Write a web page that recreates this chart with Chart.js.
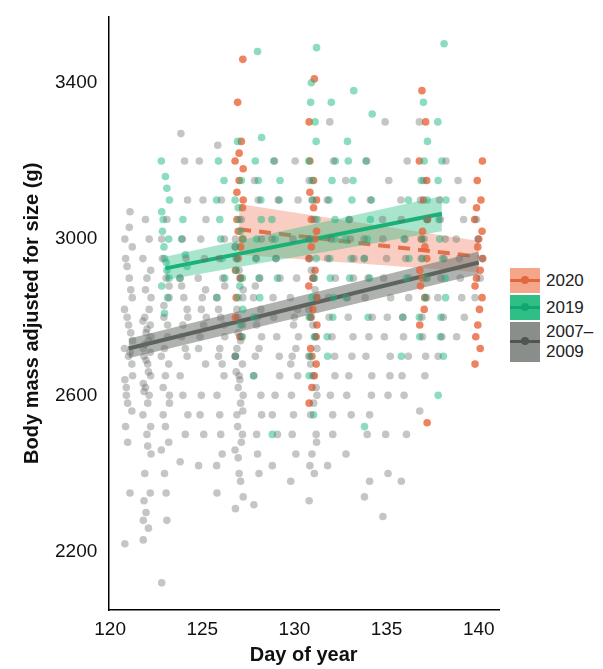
<!DOCTYPE html>
<html>
<head>
<meta charset="utf-8">
<script src="https://cdn.jsdelivr.net/npm/chart.js@4"></script>
<style>
  body { margin: 0; background: #fff; font-family: Arial, "Liberation Sans", sans-serif; }
  #wrap { position: relative; width: 603px; height: 669px; }
  #chart { position: absolute; left: 0; top: 0; width: 505px; height: 669px; }
  .legend { position: absolute; left: 510px; top: 268px; font-size: 17px; color: #222; }
  .item { display: flex; align-items: flex-start; height: 27px; }
  .key { width: 30px; height: 25px; position: relative; margin-right: 6px; }
  .key .ln { position: absolute; left: 0; right: 0; top: 11px; height: 3px; }
  .key .dt { position: absolute; left: 11px; top: 8px; width: 8px; height: 8px; border-radius: 50%; }
</style>
</head>
<body>
<div id="wrap">
  <canvas id="chart" width="505" height="669"></canvas>
  <div class="legend">
    <div class="item"><div class="key" style="background:#f4a58a"><div class="ln" style="background:#e0673e"></div><div class="dt" style="background:#e0673e"></div></div><span style="line-height:25px">2020</span></div>
    <div class="item"><div class="key" style="background:#2fbf86"><div class="ln" style="background:#10a870"></div><div class="dt" style="background:#10a870"></div></div><span style="line-height:25px">2019</span></div>
    <div class="item"><div class="key" style="background:#8a8e8a;height:40px"><div class="ln" style="background:#505550;top:18px"></div><div class="dt" style="background:#505550;top:15px"></div></div><span style="line-height:20px">2007–<br>2009</span></div>
  </div>
</div>
<script>
// observations per day of year: [day, [masses]]
const grayDays = [
  [121, [2220,2350,2480,2560,2600,2650,2700,2720,2760,2800,2850,2900,2950,3000,3070,2580,2680,2620,2740,2780,2820,2870,2930,2980,3030,2520,2640,2710]],
  [122, [2230,2260,2300,2350,2400,2450,2500,2550,2600,2620,2650,2680,2700,2720,2740,2760,2780,2800,2850,2900,2950,3000,3050,2520,2580,2610,2630,2660,2690,2710,2730,2750,2770,2790,2820,2870,2920,2470,2330,2280]],
  [123, [2120,2280,2400,2480,2550,2600,2650,2700,2750,2800,2850,2900,2950,3000,3050,2720,2680,2620,2580,2520,2460,2780,2830,2880,2350]],
  [124, [2430,2500,2600,2700,2750,2800,2850,2900,2950,3000,3100,3200,3270,2650,2720,2780,2820,2880,2550]],
  [125, [2420,2500,2600,2680,2750,2800,2850,2900,2950,3000,3050,3100,3200,2720,2780,2820,2870,2550]],
  [126, [2350,2450,2550,2650,2700,2750,2800,2850,2900,2950,3000,3100,3240,2600,2680,2720,2780,2820,2880,2500,2420]],
  [127, [2310,2380,2440,2500,2550,2600,2650,2700,2750,2800,2850,2900,2950,3000,2580,2620,2680,2720,2340,2400,2460,2480,2520,2560,2640,2660,2700,2740,2760,2780,2820,2870,2920,2980,3050]],
  [128, [2320,2400,2500,2600,2700,2750,2800,2850,2900,2950,3000,3100,3150,2650,2720,2780,2820,2880,2550,2450]],
  [129, [2420,2500,2600,2700,2800,2900,2950,3000,3100,3200,2650,2750,2850,2550]],
  [130, [2380,2450,2550,2650,2700,2750,2800,2850,2900,3000,3100,3200,2600,2680,2720,2780,2820,2500]],
  [131, [2330,2400,2450,2500,2550,2600,2650,2700,2750,2800,2850,2900,2950,3000,3050,3100,2620,2680,2720,2780,2820,2870,2920,2480,2580,2420,3150]],
  [132, [2420,2500,2600,2700,2800,2900,3000,3100,3200,3300,2650,2750,2850,2950,2550]],
  [133, [2450,2550,2650,2750,2850,2950,3050,3150,2700,2800,2900,3000,2600]],
  [134, [2340,2380,2500,2600,2700,2800,2900,3000,3100,3200,2650,2750,2850,2950,2550]],
  [135, [2290,2400,2500,2650,2750,2850,2950,3050,3150,3300,2700,2800,2900,3000,2600]],
  [136, [2380,2500,2600,2700,2800,2900,3000,3100,3200,2750,2850,2950,2650,3050]],
  [137, [2560,2650,2750,2850,2950,3050,3150,3300,2700,2800,2900,3000,3100]],
  [138, [2700,2800,2900,3000,3100,3200,2750,2850,2950,3050]],
  [139, [2750,2850,2950,3050,3150,2800,2900,3000,3100]],
  [140, [2850,2900,3000,2950,3050]]
];
const greenDays = [
  [123, [2880,2920,2950,3000,3050,3100,3160,3200,2850,2980,2900,2940,3020,3070,3130,2810]],
  [124, [2900,2960,3050,2930,3000]],
  [126, [2850,2950,3050,3150,3200,2900,3000,3100]],
  [127, [2700,2780,2850,2900,2950,3000,3050,3100,3150,3250,2820,2880,2920,2980,3020,3080,2750]],
  [128, [2800,2900,3000,3100,3200,3260,3480,2650,2850,2950,3050,3150]],
  [129, [2500,2900,3000,3100,3200,3150,2950,3050]],
  [131, [2650,2750,2850,2950,3000,3050,3100,3200,3300,3400,3490,2550,2700,2800,2900,3150,3250,3350]],
  [132, [2700,2800,2900,3000,3100,3200,3350,2750,2850,2950,3050,3150]],
  [133, [2850,2950,3050,3150,3250,3380,2900,3000,3100,3200]],
  [134, [2520,2900,3000,3100,3200,3320,2800,2950,3050]],
  [136, [2700,2900,3000,3100,2800,2950]],
  [137, [2750,2850,2950,3050,3150,3250,3350,2800,2900,3000,3100,3200]],
  [138, [2600,2700,2800,2900,3000,3100,3200,3300,3500,2750,2850,2950,3050,3150]]
];
const orangeDays = [
  [127, [2800,2900,2950,3000,3050,3100,3150,3200,3250,3350,3460,2750,2850,2920,2980,3020,3080,3120,3180,3220]],
  [131, [2580,2650,2700,2750,2800,2850,2900,2950,3000,3050,3100,3150,3200,3300,3410,2620,2680,2720,2780,2820,2880,2920,2980,3020,3080,3120]],
  [137, [2780,2850,2900,2950,3000,3050,3100,3200,3300,3380,2530,2820,2880,2920,2980,3020,3150]],
  [140, [2680,2720,2780,2850,2900,2950,3000,3050,3100,3150,3200,2820,2750,2880,2920,2980,3020,3080]]
];
// horizontal jitter offsets (days), cycled over points of a day
const jitter = [-0.2, 0.08, -0.05, 0.18, -0.12, 0.22, 0.0, -0.22, 0.12, -0.08, 0.2, 0.04, -0.16];

// fitted lines and 95% bands: [x, fit, lower, upper]
const grayFit = [[121, 2720, 2695, 2745], [140, 2940, 2910, 2968]];
const greenFit = [[123, 2925, 2895, 2955], [138, 3065, 3020, 3110]];
const orangeFit = [[127, 3025, 2960, 3090], [140, 2955, 2915, 2995]];

const xTicks = [120, 125, 130, 135, 140];
const yTicks = [2200, 2600, 3000, 3400];

function toPoints(days) {
  const pts = [];
  days.forEach(([d, ys]) => ys.forEach((y, i) => pts.push({ x: d + jitter[i % jitter.length], y })));
  return pts;
}
function col(fit, k) { return fit.map(r => ({ x: r[0], y: r[k] })); }

function bandSets(fit, fillColor, lineColor, dash) {
  return [
    { type: "line", data: col(fit, 2), borderWidth: 0, pointRadius: 0, fill: false },
    { type: "line", data: col(fit, 3), borderWidth: 0, pointRadius: 0, fill: "-1", backgroundColor: fillColor },
    { type: "line", data: col(fit, 1), borderColor: lineColor, borderWidth: 4, pointRadius: 0, fill: false, borderDash: dash || [] }
  ];
}

new Chart(document.getElementById("chart"), {
  type: "scatter",
  data: {
    datasets: [
      { data: toPoints(grayDays), backgroundColor: "rgba(100,105,100,0.38)", pointRadius: 3.8, borderWidth: 0 },
      { data: toPoints(greenDays), backgroundColor: "rgba(25,185,130,0.5)", pointRadius: 3.8, borderWidth: 0 },
      { data: toPoints(orangeDays), backgroundColor: "rgba(232,100,58,0.8)", pointRadius: 3.8, borderWidth: 0 },
      ...bandSets(grayFit, "rgba(110,115,110,0.55)", "#4b514b"),
      ...bandSets(greenFit, "rgba(40,190,130,0.4)", "#10a870"),
      ...bandSets(orangeFit, "rgba(240,130,100,0.4)", "#d9643c", [12, 8])
    ]
  },
  options: {
    responsive: false,
    animation: false,
    layout: { padding: { top: 12, right: 6, bottom: 2, left: 14 } },
    plugins: { legend: { display: false }, tooltip: { enabled: false } },
    scales: {
      x: {
        type: "linear", min: 119.9, max: 141.1,
        afterBuildTicks: a => { a.ticks = xTicks.map(v => ({ value: v })); },
        grid: { display: false, drawTicks: true, tickLength: 6, tickColor: "#000" },
        border: { color: "#000", width: 1.5 },
        ticks: { color: "#111", font: { size: 19 }, padding: 2, callback: v => String(v) },
        title: { display: true, text: "Day of year", color: "#111", font: { size: 20, weight: "bold" }, padding: 0 }
      },
      y: {
        min: 2050, max: 3570,
        afterBuildTicks: a => { a.ticks = yTicks.map(v => ({ value: v })); },
        grid: { display: false, drawTicks: true, tickLength: 6, tickColor: "#000" },
        border: { color: "#000", width: 1.5 },
        ticks: { color: "#111", font: { size: 19 }, padding: 5, callback: v => String(v) },
        title: { display: true, text: "Body mass adjusted for size (g)", color: "#111", font: { size: 20, weight: "bold" }, padding: 6 }
      }
    }
  }
});
</script>
</body>
</html>
